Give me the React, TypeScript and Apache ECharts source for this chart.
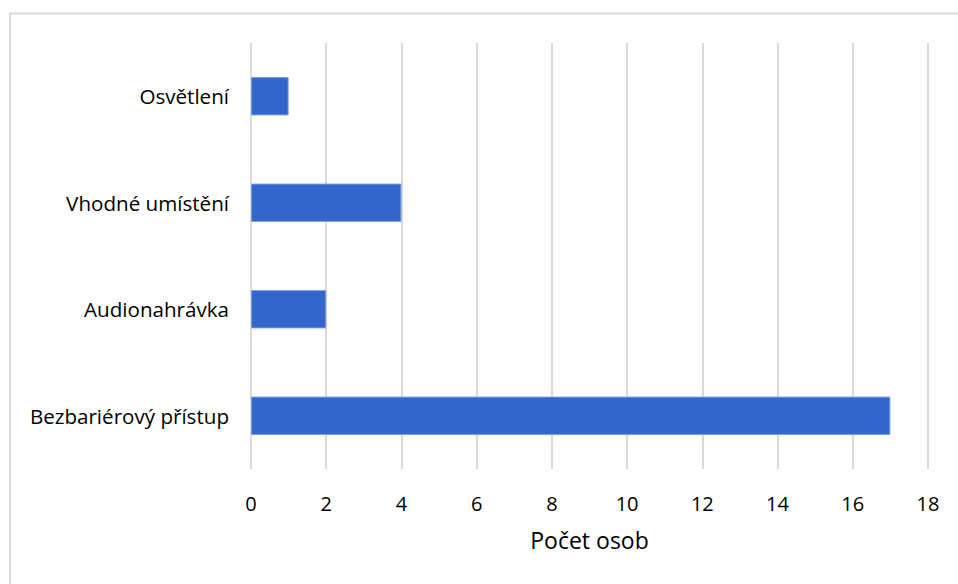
import React, { useEffect, useRef } from "react";
import * as echarts from "echarts";

const categories = ["Bezbariérový přístup", "Audionahrávka", "Vhodné umístění", "Osvětlení"];
const values = [17, 2, 4, 1];
const axisName = "Počet osob";

export default function App() {
  const ref = useRef<HTMLDivElement>(null);
  useEffect(() => {
    const chart = echarts.init(ref.current!, null, { renderer: "svg" });
    const font = "'Open Sans', sans-serif";
    chart.setOption({
      animation: false,
      backgroundColor: "#fff",
      textStyle: { fontFamily: font },
      grid: { left: 251, right: 30, top: 43, bottom: 115, containLabel: false },
      xAxis: {
        type: "value",
        min: 0,
        max: 18,
        interval: 2,
        name: axisName,
        nameLocation: "middle",
        nameGap: 59,
        nameTextStyle: { fontSize: 23, color: "#000", fontFamily: font },
        axisLine: { show: false },
        axisTick: { show: false },
        axisLabel: { fontSize: 20, color: "#000", margin: 24, fontFamily: font },
        splitLine: { show: true, lineStyle: { color: "#d9d9d9", width: 2 } },
      },
      yAxis: {
        type: "category",
        data: categories,
        axisLine: { show: false },
        axisTick: { show: false },
        axisLabel: { fontSize: 20.6, color: "#000", margin: 22, fontFamily: font },
        splitLine: { show: false },
      },
      series: [
        {
          type: "bar",
          data: values,
          barWidth: "36%",
          itemStyle: { color: "#3366cc", borderColor: "#7a9ee0", borderWidth: 1 },
        },
      ],
      graphic: [
        { type: "line", shape: { x1: 9, y1: 13.5, x2: 958, y2: 13.5 }, style: { stroke: "#d9d9d9", lineWidth: 2 } },
        { type: "line", shape: { x1: 10, y1: 13, x2: 10, y2: 584 }, style: { stroke: "#d9d9d9", lineWidth: 2 } },
      ],
    });
    return () => chart.dispose();
  }, []);
  return (
    <div
      ref={ref}
      style={{ position: "absolute", left: 0, top: 0, width: 958, height: 584 }}
    />
  );
}
